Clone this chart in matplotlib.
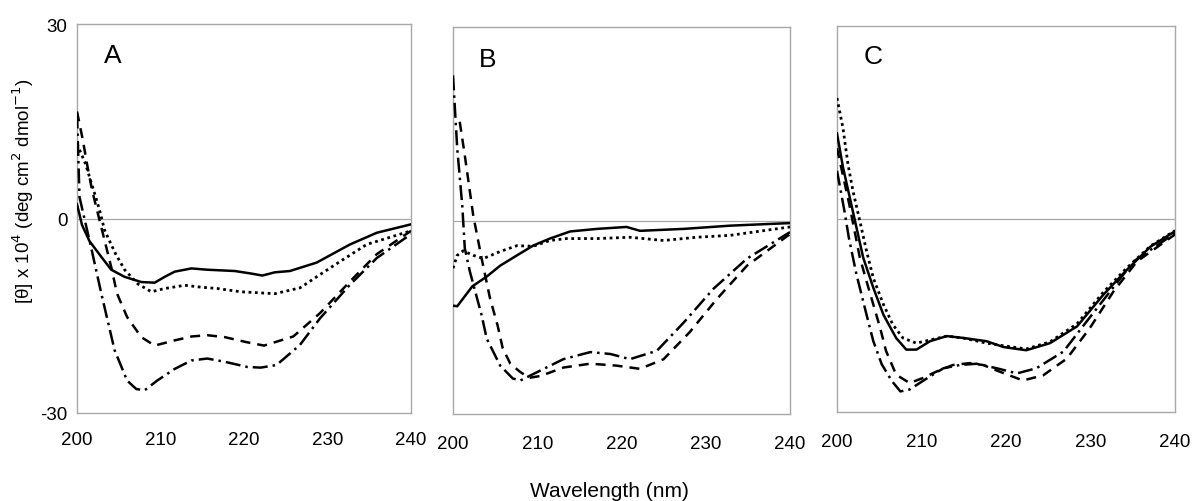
import matplotlib
matplotlib.use("Agg")
import matplotlib.pyplot as plt

plt.rcParams['font.family'] = ['Liberation Sans', 'DejaVu Sans']

# ---------------- Data ----------------
# Panel A
a_solid_x = [200, 200.6, 201.5, 202.9, 204.1, 205.7, 207.7, 209.3, 210.5, 211.7, 213.7, 215.6, 218.9, 220.9, 222.2, 223.7, 225.5, 228.7, 232.7, 235.9, 240]
a_solid_y = [2.2, -1.0, -3.5, -5.9, -7.9, -9.0, -9.8, -9.9, -9.0, -8.2, -7.7, -7.9, -8.1, -8.5, -8.8, -8.3, -8.1, -6.8, -4.0, -2.2, -0.9]
a_dot_x = [200, 201, 201.5, 202.1, 202.7, 203.3, 204.6, 205.7, 207.3, 208.9, 210.5, 212.9, 214.9, 216.8, 219.6, 223.7, 226.7, 230.7, 234.7, 240]
a_dot_y = [11.5, 8.5, 6.4, 3.9, 1.3, -1.8, -5.4, -7.9, -10.1, -11.3, -10.8, -10.3, -10.6, -10.8, -11.3, -11.6, -10.7, -7.3, -4.0, -1.9]
a_dash_x = [200, 200.7, 201.2, 201.8, 202.3, 202.9, 204.1, 204.8, 206, 207.7, 209.3, 211.7, 213.7, 215.6, 217.7, 220.4, 222.4, 225.9, 229.1, 232.7, 235.9, 240]
a_dash_y = [16.5, 12.1, 8.4, 4.4, 1.8, -1.3, -7.5, -11.6, -15.2, -18.3, -19.6, -18.8, -18.2, -18.0, -18.3, -19.1, -19.6, -18.2, -14.6, -9.7, -5.5, -1.9]
a_dd_x = [200, 200.3, 201.8, 202.9, 204.5, 206, 207.1, 208.1, 209.6, 211.7, 213.7, 215.6, 217.7, 220.4, 222, 223.9, 226.7, 229.1, 232.7, 235.9, 240]
a_dd_y = [16.2, 3.3, -5.1, -11.5, -20.3, -25.0, -26.3, -26.5, -25.0, -23.2, -21.9, -21.6, -22.1, -22.9, -23.0, -22.6, -19.5, -15.4, -10.2, -6.1, -2.4]

# Panel B
b_solid_x = [200, 200.5, 202.3, 204, 205.6, 207.6, 209.5, 211.5, 213.9, 217.1, 220.6, 222.2, 227.4, 232.9, 240]
b_solid_y = [-13.2, -13.3, -10.2, -8.7, -7.0, -5.4, -3.9, -2.8, -1.7, -1.3, -1.0, -1.6, -1.3, -0.8, -0.4]
b_dot_x = [200, 200.5, 201.2, 202.4, 203.6, 205.6, 207.6, 209.5, 211.5, 213.5, 217.1, 221, 225, 228.9, 232.9, 240]
b_dot_y = [-7.4, -5.4, -4.7, -5.4, -5.9, -4.8, -3.9, -4.0, -3.1, -2.8, -2.8, -2.6, -3.1, -2.6, -2.3, -1.0]
b_dash_x = [200.8, 201.4, 202.4, 203.4, 204.4, 205.3, 205.9, 206.8, 207.9, 209, 210.4, 213.1, 216.3, 219.4, 222.2, 225, 228.1, 231.3, 234.9, 240]
b_dash_y = [15.3, 10.1, 0.8, -5.9, -12.1, -16.3, -19.8, -22.2, -23.4, -24.4, -24.1, -22.8, -22.2, -22.5, -23.0, -21.5, -17.3, -12.2, -7.0, -2.1]
b_dd_x = [200, 200.5, 201.1, 201.4, 202, 203.4, 204, 205.6, 207.1, 208, 210, 213.1, 216.3, 218.7, 221, 224.2, 227.4, 230.9, 234.9, 240]
b_dd_y = [22.5, 11.2, 2.3, -4.3, -7.9, -14.7, -18.3, -22.5, -24.5, -24.8, -23.5, -21.5, -20.4, -20.7, -21.5, -20.2, -15.8, -10.6, -5.9, -1.8]

# Panel C
c_solid_x = [200, 200.7, 201.5, 202.3, 203.1, 204.3, 205.5, 207, 208.2, 209.4, 211, 213, 215, 217.7, 219.7, 222.4, 225.2, 228.4, 231.5, 234.3, 237.1, 240]
c_solid_y = [13.3, 8.1, 3.4, -1.3, -6.0, -10.7, -14.9, -18.5, -20.3, -20.3, -19.0, -18.2, -18.5, -19.0, -19.9, -20.4, -19.3, -16.7, -11.8, -7.9, -4.3, -1.9]
c_dot_x = [200, 200.7, 201.3, 201.9, 202.7, 203.5, 204.3, 205.5, 206.6, 207.8, 209.4, 211, 213, 214.9, 217.7, 219.7, 222.4, 225.2, 228.4, 231.5, 234.3, 237.1, 240]
c_dot_y = [18.8, 14.2, 8.5, 4.3, -0.3, -5.0, -9.2, -13.3, -16.4, -18.5, -19.3, -18.8, -18.2, -18.5, -19.3, -19.7, -20.2, -19.1, -16.3, -11.4, -7.6, -4.2, -1.8]
c_dash_x = [200, 201.5, 202.7, 203.5, 204.3, 205.1, 205.8, 207, 208.6, 210.2, 211.8, 213.7, 215.7, 217.3, 219, 222, 224.4, 227.2, 229.9, 232.7, 235.5, 240]
c_dash_y = [11.0, 2.0, -6.0, -9.7, -13.3, -16.9, -20.5, -24.2, -25.5, -24.7, -23.7, -22.7, -22.4, -22.7, -23.6, -25.1, -24.3, -21.7, -17.0, -11.3, -6.6, -2.4]
c_dd_x = [200, 200.9, 201.4, 202.3, 203.5, 204.3, 205.3, 206.5, 207.5, 208.6, 210.6, 212.6, 214.5, 216.5, 218.9, 221.3, 223.6, 226.8, 229.5, 232.3, 235.1, 240]
c_dd_y = [7.5, 1.1, -2.9, -8.6, -14.9, -19.0, -22.6, -25.2, -26.8, -26.5, -24.8, -23.2, -22.7, -22.5, -23.2, -24.0, -23.2, -20.6, -16.0, -11.3, -6.6, -2.2]

panel_letters = ['A', 'B', 'C']
x_ticks = [200, 210, 220, 230, 240]
y_ticks = [-30, 0, 30]
y_label = r'[θ] x 10$^{4}$ (deg cm$^{2}$ dmol$^{-1}$)'
x_label = 'Wavelength (nm)'

panels = [
    [(a_solid_x, a_solid_y), (a_dot_x, a_dot_y), (a_dash_x, a_dash_y), (a_dd_x, a_dd_y)],
    [(b_solid_x, b_solid_y), (b_dot_x, b_dot_y), (b_dash_x, b_dash_y), (b_dd_x, b_dd_y)],
    [(c_solid_x, c_solid_y), (c_dot_x, c_dot_y), (c_dash_x, c_dash_y), (c_dd_x, c_dd_y)],
]

styles = [
    dict(linestyle='-', linewidth=1.8),
    dict(linestyle=(0, (1, 1.3)), linewidth=2.0),
    dict(linestyle=(0, (4, 2.8)), linewidth=1.8),
    dict(linestyle=(0, (6, 2, 1, 2)), linewidth=1.8),
]

fig = plt.figure(figsize=(11.92, 5.02), dpi=100)
W, H = 1192, 502
boxes = [(77, 25, 411, 414), (453, 28, 790, 415), (837, 27, 1175, 413)]
letter_pos = [(113, 56), (488, 60), (873, 57)]

for i, (box, curves) in enumerate(zip(boxes, panels)):
    l, t, r, b = box
    ax = fig.add_axes([l / W, 1 - b / H, (r - l) / W, (b - t) / H])
    ax.set_xlim(200, 240)
    ax.set_ylim(-30, 30)
    ax.axhline(0, color='#a8a8a8', linewidth=0.9, zorder=1)
    for (xs, ys), st in zip(curves, styles):
        ax.plot(xs, ys, color='black', zorder=3, **st)
    for sp in ax.spines.values():
        sp.set_color('#a8a8a8')
        sp.set_linewidth(1.0)
    ax.set_xticks(x_ticks)
    ax.set_xticklabels([str(v) for v in x_ticks], fontsize=13.5)
    ax.tick_params(axis='x', length=0, pad=13 if i == 0 else 15)
    if i == 0:
        ax.set_yticks(y_ticks)
        ax.set_yticklabels([str(v) for v in y_ticks], fontsize=13.5)
        ax.tick_params(axis='y', length=0, pad=7)
    else:
        ax.set_yticks([])
    lx, ly = letter_pos[i]
    fig.text(lx / W, 1 - ly / H, panel_letters[i], fontsize=19, ha='center', va='center')

fig.text(23 / W, 1 - 191 / H, y_label, rotation=90, fontsize=13.5, ha='center', va='center')
fig.text(609 / W, 1 - 492 / H, x_label, fontsize=15, ha='center', va='center')

fig.savefig('out.png', dpi=100, facecolor='white')
